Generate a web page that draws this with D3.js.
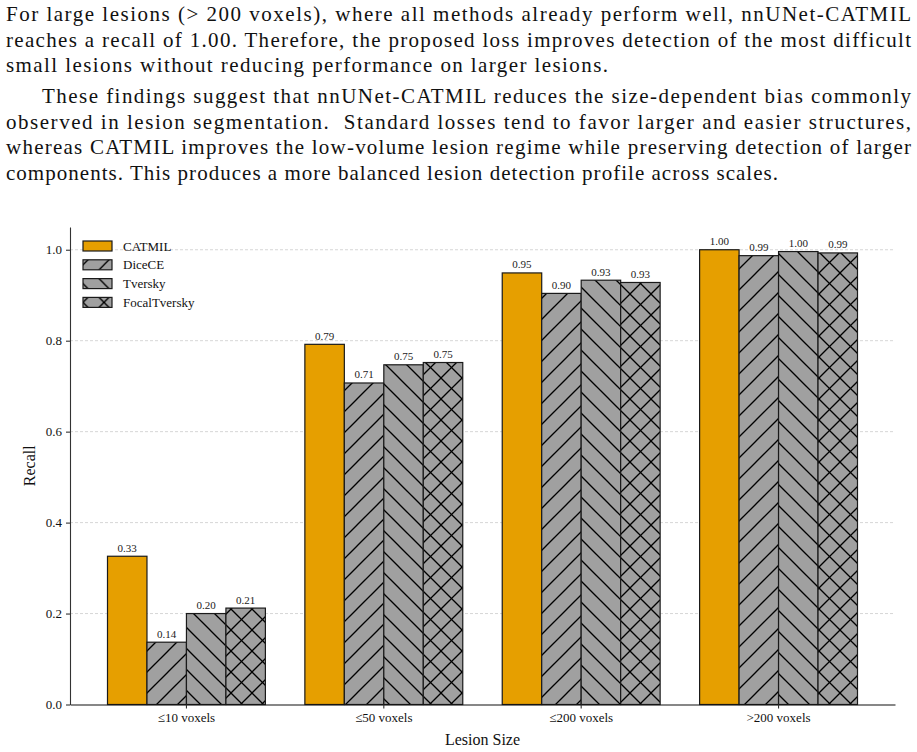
<!DOCTYPE html>
<html>
<head>
<meta charset="utf-8">
<script src="https://cdn.jsdelivr.net/npm/d3@7/dist/d3.min.js"></script>
<style>
  body { margin: 0; background: #fff; }
  svg { display: block; }
</style>
</head>
<body>
<svg id="fig" width="917" height="752"></svg>
<script>
// Paragraph text above the figure (one entry per typeset line)
const textLines = [
	'For large lesions (> 200 voxels), where all methods already perform well, nnUNet-CATMIL',
	'reaches a recall of 1.00. Therefore, the proposed loss improves detection of the most difficult',
	'small lesions without reducing performance on larger lesions.',
	'These findings suggest that nnUNet-CATMIL reduces the size-dependent bias commonly',
	'observed in lesion segmentation.  Standard losses tend to favor larger and easier structures,',
	'whereas CATMIL improves the low-volume lesion regime while preserving detection of larger',
	'components. This produces a more balanced lesion detection profile across scales.'
];

// Chart data
const categories = ['≤10 voxels', '≤50 voxels', '≤200 voxels', '>200 voxels'];
const methods = ['CATMIL', 'DiceCE', 'Tversky', 'FocalTversky'];
const recallCATMIL = [0.326, 0.792, 0.949, 1.000];
const recallDiceCE = [0.137, 0.707, 0.904, 0.987];
const recallTversky = [0.200, 0.747, 0.933, 0.996];
const recallFocalTversky = [0.212, 0.752, 0.928, 0.993];
const yTicks = [0, 0.2, 0.4, 0.6, 0.8, 1.0];

(function () {
	const svg = d3.select('#fig');
	const serif = '"Liberation Serif", "Times New Roman", serif';

	// ---- paragraph (each line stretched to its typeset width) ----
	const lineLayout = [
		{ x: 6, w: 905, y: 21 }, { x: 6, w: 905, y: 47 }, { x: 6, w: 602, y: 72 },
		{ x: 42, w: 869, y: 103 }, { x: 6, w: 905, y: 129 }, { x: 6, w: 905, y: 154 },
		{ x: 6, w: 772, y: 180 }
	];
	textLines.forEach((t, i) => {
		const L = lineLayout[i];
		svg.append('text')
			.attr('x', L.x).attr('y', L.y)
			.attr('font-family', serif).attr('font-size', 21).attr('fill', '#111')
			.attr('textLength', L.w).attr('lengthAdjust', 'spacing')
			.style('white-space', 'pre')
			.text(t);
	});

	// ---- chart ----
	const plot = { left: 70, right: 895, top: 227, bottom: 704.5 };
	const series = [recallCATMIL, recallDiceCE, recallTversky, recallFocalTversky];

	const x = d3.scaleBand().domain(categories)
		.range([plot.left, plot.right]).paddingInner(0.2).paddingOuter(0.19);
	const xs = d3.scaleBand().domain(methods).range([0, x.bandwidth()]);
	const y = d3.scaleLinear().domain([0, 1.05]).range([plot.bottom, plot.top]);

	// hatch patterns, aligned on the page like matplotlib's
	const defs = svg.append('defs');
	const hs = 21;
	const hatch = (id, dirs) => {
		const p = defs.append('pattern').attr('id', id)
			.attr('patternUnits', 'userSpaceOnUse').attr('width', hs).attr('height', hs);
		p.append('rect').attr('width', hs).attr('height', hs).attr('fill', '#a0a0a0');
		const segs = [];
		if (dirs.includes('/')) segs.push([-1, hs + 1, hs + 1, -1], [-2, 2, 2, -2], [hs - 2, hs + 2, hs + 2, hs - 2]);
		if (dirs.includes('\\')) segs.push([-1, -1, hs + 1, hs + 1], [-2, hs - 2, 2, hs + 2], [hs - 2, -2, hs + 2, 2]);
		segs.forEach(s => p.append('line')
			.attr('x1', s[0]).attr('y1', s[1]).attr('x2', s[2]).attr('y2', s[3])
			.attr('stroke', '#000').attr('stroke-width', 1.3));
	};
	hatch('h-fwd', '/');
	hatch('h-back', '\\');
	hatch('h-cross', '/\\');
	const fills = { CATMIL: '#E69F00', DiceCE: 'url(#h-fwd)', Tversky: 'url(#h-back)', FocalTversky: 'url(#h-cross)' };

	// grid
	svg.append('g').selectAll('line').data(yTicks.slice(1)).join('line')
		.attr('x1', plot.left).attr('x2', plot.right)
		.attr('y1', d => y(d)).attr('y2', d => y(d))
		.attr('stroke', '#cccccc').attr('stroke-width', 0.8).attr('stroke-dasharray', '3,2');

	// bars
	const rows = [];
	categories.forEach((c, ci) => methods.forEach((m, mi) => rows.push({ c, m, v: series[mi][ci] })));
	const bars = svg.append('g');
	bars.selectAll('rect').data(rows).join('rect')
		.attr('x', d => x(d.c) + xs(d.m)).attr('width', xs.bandwidth())
		.attr('y', d => y(d.v)).attr('height', d => y(0) - y(d.v))
		.attr('fill', d => fills[d.m]).attr('stroke', '#1a1a1a').attr('stroke-width', 1.2);
	bars.selectAll('text').data(rows).join('text')
		.attr('x', d => x(d.c) + xs(d.m) + xs.bandwidth() / 2)
		.attr('y', d => y(d.v) - 4.5)
		.attr('text-anchor', 'middle').attr('font-family', serif).attr('font-size', 11).attr('fill', '#222')
		.text(d => d3.format('.2f')(d.v));

	// axes
	const ax = svg.append('g').attr('transform', 'translate(0,' + plot.bottom + ')')
		.call(d3.axisBottom(x).tickSize(4).tickPadding(4).tickSizeOuter(0));
	const ay = svg.append('g').attr('transform', 'translate(' + plot.left + ',0)')
		.call(d3.axisLeft(y).tickValues(yTicks).tickFormat(d3.format('.1f')).tickSize(4).tickPadding(4).tickSizeOuter(0));
	[ax, ay].forEach(a => {
		a.selectAll('text').attr('font-family', serif).attr('font-size', 13).attr('fill', '#111');
		a.selectAll('line, path').attr('stroke', '#333').attr('stroke-width', 1.1);
	});
	ax.select('path').attr('stroke', '#111');

	svg.append('text')
		.attr('x', (plot.left + plot.right) / 2).attr('y', 745)
		.attr('text-anchor', 'middle').attr('font-family', serif).attr('font-size', 16).attr('fill', '#111')
		.text('Lesion Size');
	svg.append('text')
		.attr('transform', 'translate(35,' + ((plot.top + plot.bottom) / 2) + ') rotate(-90)')
		.attr('text-anchor', 'middle').attr('font-family', serif).attr('font-size', 16).attr('fill', '#111')
		.text('Recall');

	// legend
	const legend = svg.append('g').attr('transform', 'translate(83,246)');
	methods.forEach((m, i) => {
		const row = legend.append('g').attr('transform', 'translate(0,' + (i * 18.8) + ')');
		row.append('rect').attr('x', 0).attr('y', -5).attr('width', 29).attr('height', 10)
			.attr('fill', fills[m]).attr('stroke', '#1a1a1a').attr('stroke-width', 1.2);
		row.append('text').attr('x', 40).attr('y', 4.5)
			.attr('font-family', serif).attr('font-size', 13).attr('fill', '#111')
			.text(m);
	});
})();
</script>
</body>
</html>
